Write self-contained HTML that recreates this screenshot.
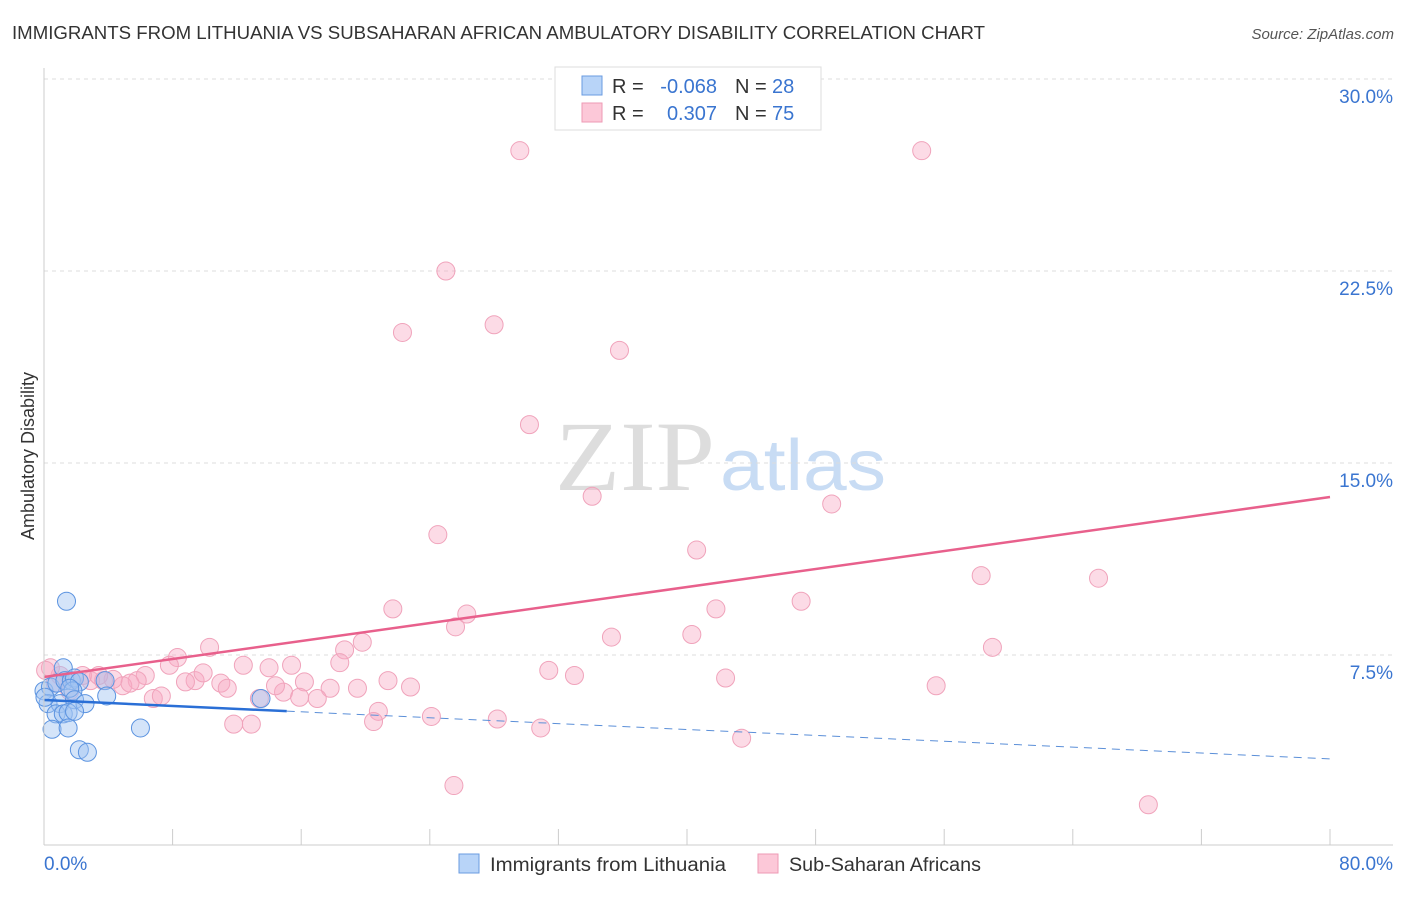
<!DOCTYPE html>
<html><head><meta charset="utf-8"><style>
body{margin:0;background:#fff;font-family:"Liberation Sans",sans-serif;}
</style></head><body>
<svg id="c" width="1406" height="892" xmlns="http://www.w3.org/2000/svg" font-family="Liberation Sans, sans-serif">
<text x="12" y="39" font-size="18" fill="#333" textLength="973" lengthAdjust="spacingAndGlyphs">IMMIGRANTS FROM LITHUANIA VS SUBSAHARAN AFRICAN AMBULATORY DISABILITY CORRELATION CHART</text>
<text x="1394" y="39" font-size="15" fill="#555" text-anchor="end" font-style="italic">Source: ZipAtlas.com</text>
<text x="555" y="490" font-size="100" fill="#ddd" font-family="Liberation Serif, serif" textLength="160" lengthAdjust="spacingAndGlyphs">ZIP</text>
<text x="720" y="490" font-size="72" fill="#c8dcf4" textLength="166" lengthAdjust="spacingAndGlyphs">atlas</text>
<text transform="translate(34,456) rotate(-90)" font-size="18" fill="#333" text-anchor="middle">Ambulatory Disability</text>
<g id="grid"></g><g id="marks"></g>
<line x1="44" y1="68" x2="44" y2="845" stroke="#ccc"/>
<line x1="44" y1="845" x2="1393" y2="845" stroke="#ccc"/>
<text x="44" y="870" font-size="19" fill="#3a75d0">0.0%</text>
<text x="1393" y="870" font-size="19" fill="#3a75d0" text-anchor="end">80.0%</text>
<g font-size="20">
<rect x="555" y="67" width="266" height="63" fill="#fff" stroke="#ddd"/>
<rect x="582" y="76" width="20" height="19" fill="#b8d4f8" stroke="#6a9be0"/>
<rect x="582" y="103" width="20" height="19" fill="#fcc8d8" stroke="#ee9ab4"/>
<text x="612" y="93" fill="#333">R =</text>
<text x="717" y="93" fill="#3a75d0" text-anchor="end">-0.068</text>
<text x="735" y="93" fill="#333">N =</text>
<text x="772" y="93" fill="#3a75d0">28</text>
<text x="612" y="120" fill="#333">R =</text>
<text x="717" y="120" fill="#3a75d0" text-anchor="end">0.307</text>
<text x="735" y="120" fill="#333">N =</text>
<text x="772" y="120" fill="#3a75d0">75</text>
</g>
<g>
<rect x="459" y="854" width="20" height="19" fill="#b8d4f8" stroke="#6a9be0"/>
<text x="490" y="871" font-size="19" fill="#333" textLength="236" lengthAdjust="spacingAndGlyphs">Immigrants from Lithuania</text>
<rect x="758" y="854" width="20" height="19" fill="#fcc8d8" stroke="#ee9ab4"/>
<text x="789" y="871" font-size="19" fill="#333" textLength="192" lengthAdjust="spacingAndGlyphs">Sub-Saharan Africans</text>
</g>
</svg>
<script>
const yTicks=[7.5,15,22.5,30];
const yTickLabels=["7.5%","15.0%","22.5%","30.0%"];
const xTicks=[0,8,16,24,32,40,48,56,64,72,80];
const pinkX=[29.6,54.6,25.0,22.3,28.0,35.8,30.2,34.1,49.0,24.5,40.6,58.3,65.6,21.7,26.3,25.6,41.8,47.1,35.3,40.3,19.8,59.0,10.3,8.3,18.7,7.8,12.4,14.0,15.4,18.4,31.4,33.0,42.4,21.4,22.8,19.5,16.2,17.8,17.0,55.5,11.0,11.4,9.4,9.9,6.3,5.8,4.9,5.35,3.7,2.9,2.4,1.0,0.4,0.7,6.8,7.3,13.4,14.9,15.9,11.8,12.9,20.8,20.5,24.1,28.2,30.9,43.4,25.5,68.7,4.3,1.6,3.4,8.8,14.4,0.1];
const pinkY=[27.2,27.2,22.5,20.1,20.4,19.4,16.5,13.7,13.4,12.2,11.6,10.6,10.5,9.3,9.1,8.6,9.3,9.6,8.2,8.3,8.0,7.8,7.8,7.4,7.7,7.1,7.1,7.0,7.1,7.2,6.9,6.7,6.6,6.5,6.25,6.2,6.45,6.2,5.8,6.3,6.4,6.2,6.5,6.8,6.7,6.5,6.3,6.4,6.5,6.5,6.7,6.7,7.0,6.4,5.8,5.9,5.8,6.05,5.85,4.8,4.8,5.3,4.9,5.1,5.0,4.65,4.25,2.4,1.65,6.55,6.1,6.7,6.45,6.3,6.9];
const blueX=[1.4,1.2,0.0,0.4,0.8,1.3,1.7,1.9,2.2,3.8,1.8,1.6,0.25,1.0,1.9,2.55,0.75,1.2,1.5,1.9,0.5,1.5,6.0,2.2,2.7,3.9,13.5,0.06];
const blueY=[9.6,7.0,6.1,6.25,6.4,6.5,6.5,6.6,6.45,6.5,6.1,6.2,5.6,5.6,5.75,5.6,5.2,5.2,5.25,5.3,4.6,4.65,4.65,3.8,3.7,5.9,5.8,5.85];
const pinkTrend=[6.64,13.67];
const blueTrend=[5.74,3.44];
const blueSolidEnd=15.1;
const X=v=>44+v/80*1286, Y=v=>847-v/7.5*192;
const NS="http://www.w3.org/2000/svg";
const g=document.getElementById('grid'), m=document.getElementById('marks');
function mk(p,t,a){const e=document.createElementNS(NS,t);for(const k in a)e.setAttribute(k,a[k]);p.appendChild(e);return e;}
yTicks.forEach((v,i)=>{
 const l=mk(g,'line',{x1:44,x2:1393,y1:Y(v),y2:Y(v),stroke:'#ddd','stroke-dasharray':'4,4'});
 
 
 const t=mk(g,'text',{x:1393,y:Y(v)+24,'font-size':19,fill:'#3a75d0','text-anchor':'end'});
 t.textContent=yTickLabels[i];
 
 
});
xTicks.forEach(v=>{
 const l=mk(g,'line',{x1:X(v),x2:X(v),y1:829,y2:845,stroke:'#ccc'});
 
 
});
pinkX.forEach((x,i)=>{
 const c=mk(m,'circle',{cx:X(x),cy:Y(pinkY[i]),r:9,fill:'rgba(248,170,195,0.42)',stroke:'#f0a3bb','stroke-width':1});
 
 
});
blueX.forEach((x,i)=>{
 const c=mk(m,'circle',{cx:X(x),cy:Y(blueY[i]),r:9,fill:'rgba(160,195,242,0.45)',stroke:'#5b93e0','stroke-width':1});
 
 
});
const pl=mk(m,'line',{x1:X(0),y1:Y(pinkTrend[0]),x2:X(80),y2:Y(pinkTrend[1]),stroke:'#e8608c','stroke-width':2.5});


const bt=v=>blueTrend[0]+(blueTrend[1]-blueTrend[0])*v/80;
const bs=mk(m,'line',{x1:X(0),y1:Y(bt(0)),x2:X(blueSolidEnd),y2:Y(bt(blueSolidEnd)),stroke:'#2a6fd6','stroke-width':2.5});


const bd=mk(m,'line',{x1:X(blueSolidEnd),y1:Y(bt(blueSolidEnd)),x2:X(80),y2:Y(bt(80)),stroke:'#5b8fd8','stroke-width':1,'stroke-dasharray':'8,6'});


</script>
</body></html>
